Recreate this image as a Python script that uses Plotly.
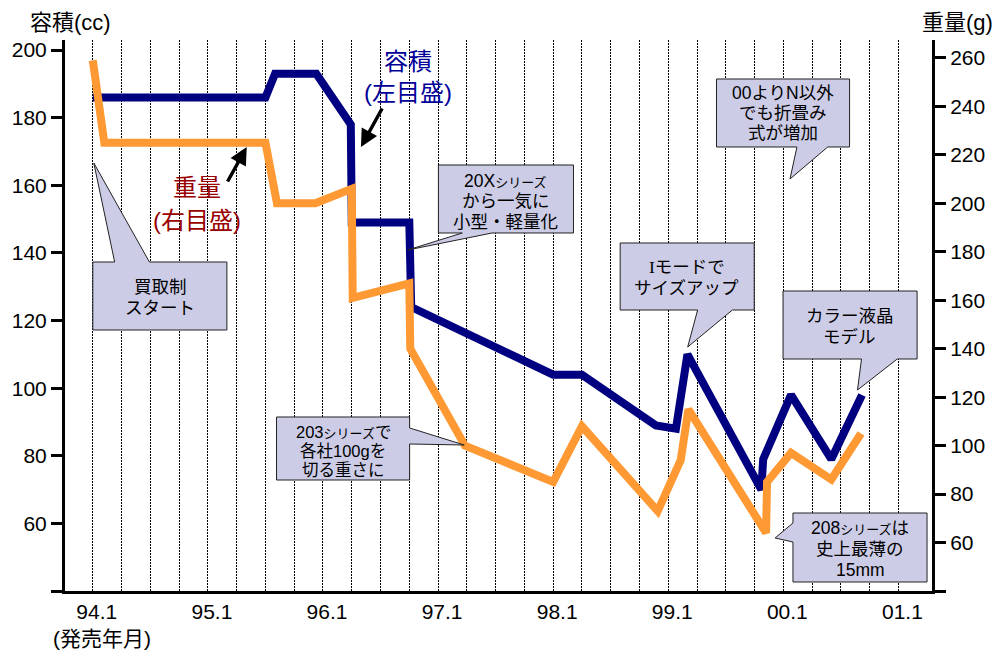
import plotly.graph_objects as go

# ---------------- data ----------------
# x = months since 1994.1 (release month)
vol_month = [0, 18, 19, 23.3, 26.9, 27, 33, 33.2, 48, 51, 58.7, 60.8, 62, 69.7, 69.9, 72.8, 77, 80.2]
vol_cc = [186, 186, 193, 193, 178, 149, 149, 124, 104, 104, 89, 88, 110, 70, 79, 98, 79, 98]

wt_month = [0, 1.2, 18, 19.2, 23.2, 27, 27.1, 33, 33.1, 38.8, 48, 51, 58.9, 61.3, 62.1, 70.2, 70.3, 72.8, 77, 80.1]
wt_g = [259, 225, 225, 200, 200, 206, 161, 167, 140, 100, 85, 108, 73, 94, 115, 64, 85, 97, 86, 105]

x_tick_months = [0, 12, 24, 36, 48, 60, 72, 84]
x_tick_labels = ["94.1", "95.1", "96.1", "97.1", "98.1", "99.1", "00.1", "01.1"]
x_grid_months = list(range(0, 85, 3))

vol_ticks = [40, 60, 80, 100, 120, 140, 160, 180, 200]
wt_ticks = [40, 60, 80, 100, 120, 140, 160, 180, 200, 220, 240, 260]

# ---------------- layout helpers ----------------
W, H = 997, 652
L, R, T, B = 60, 933, 40, 591
FONT = "Liberation Sans, Arial, Noto Sans CJK JP, sans-serif"


def px(x):
    return (x - L) / (R - L)


def py(y):
    return (B - y) / (B - T)


def callout_path(box, edge, a, b, tip):
    x0, y0, x1, y1 = box
    tx, ty = tip
    if edge == "bottom":
        pts = [(x0, y0), (x1, y0), (x1, y1), (b, y1), (tx, ty), (a, y1), (x0, y1)]
    elif edge == "top":
        pts = [(x0, y0), (a, y0), (tx, ty), (b, y0), (x1, y0), (x1, y1), (x0, y1)]
    elif edge == "left":
        pts = [(x0, y0), (x1, y0), (x1, y1), (x0, y1), (x0, b), (tx, ty), (x0, a)]
    else:  # right
        pts = [(x0, y0), (x1, y0), (x1, a), (tx, ty), (x1, b), (x1, y1), (x0, y1)]
    return "M " + " L ".join(f"{px(x):.5f},{py(y):.5f}" for x, y in pts) + " Z"


S = "<span style='font-size:13px'>シリーズ</span>"
I_SERIF = "<span style='font-family:Liberation Serif'>I</span>"
callouts = [
    dict(box=(88, 262, 223, 330), edge="top", a=110, b=145, tip=(89, 163),
         cx=156, lines=["買取制", "スタート"], ys=[287, 308], fs=17.5),
    dict(box=(436, 165, 572, 233), edge="bottom", a=460, b=490, tip=(405, 250),
         cx=504, lines=["20X" + S, "から一気に", "小型・軽量化"], ys=[181, 201, 222], fs=17.5),
    dict(box=(619, 243, 754, 310), edge="bottom", a=697, b=732, tip=(687, 347),
         cx=686, lines=[I_SERIF + "モードで", "サイズアップ"], ys=[267, 288], fs=17.5),
    dict(box=(716, 79, 850, 147), edge="bottom", a=797, b=828, tip=(790, 179),
         cx=783, lines=["00よりN以外", "でも折畳み", "式が増加"], ys=[93, 113, 133], fs=17.5),
    dict(box=(783, 291, 918, 359), edge="bottom", a=862, b=898, tip=(858, 390),
         cx=850, lines=["カラー液晶", "モデル"], ys=[316, 337], fs=17.5),
    dict(box=(793, 513, 928, 582), edge="left", a=523, b=542, tip=(775, 538),
         cx=861, lines=["208" + S + "は", "史上最薄の", "15mm"], ys=[528, 549, 570], fs=17.5),
    dict(box=(273, 417, 407, 480), edge="right", a=428, b=444, tip=(462, 445),
         cx=340, lines=["203" + S + "で", "各社100gを", "切る重さに"], ys=[432, 451, 470], fs=16.5),
]

fig = go.Figure()
fig.add_trace(go.Scatter(x=vol_month, y=vol_cc, mode="lines", yaxis="y",
                         line=dict(color="#000080", width=8), hoverinfo="skip"))
fig.add_trace(go.Scatter(x=wt_month, y=wt_g, mode="lines", yaxis="y2",
                         line=dict(color="#FF9933", width=8), hoverinfo="skip"))

shapes = []
annotations = []
for c in callouts:
    shapes.append(dict(type="path", xref="paper", yref="paper",
                       path=callout_path(c["box"], c["edge"], c["a"], c["b"], c["tip"]),
                       fillcolor="#CCCCE6", line=dict(color="#222222", width=1), layer="above"))
    for t, yy in zip(c["lines"], c["ys"]):
        annotations.append(dict(xref="paper", yref="paper", x=px(c["cx"]), y=py(yy),
                                text=t, showarrow=False, xanchor="center", yanchor="middle",
                                font=dict(family=FONT, size=c["fs"], color="black")))

# series labels
for t, yy, col, xx in [("容積", 62, "#000099", 405), ("(左目盛)", 93, "#000099", 405),
                       ("重量", 188, "#990000", 193), ("(右目盛)", 220, "#990000", 193)]:
    annotations.append(dict(xref="paper", yref="paper", x=px(xx), y=py(yy), text=t,
                            showarrow=False, xanchor="center", yanchor="middle",
                            font=dict(family=FONT, size=24, color=col)))

# arrows
for tip, tail in [((358, 147), (380, 107)), ((243, 147), (223, 183))]:
    annotations.append(dict(xref="paper", yref="paper", x=px(tip[0]), y=py(tip[1]), text="",
                            showarrow=True, ax=tail[0] - tip[0], ay=tail[1] - tip[1],
                            arrowhead=2, arrowsize=1, arrowwidth=3.5, arrowcolor="black"))

# axis titles
annotations += [
    dict(xref="paper", yref="paper", x=px(23), y=py(22), text="容積(cc)", showarrow=False,
         xanchor="left", yanchor="middle", font=dict(family=FONT, size=22, color="black")),
    dict(xref="paper", yref="paper", x=px(996), y=py(22), text="重量(g)", showarrow=False,
         xanchor="right", yanchor="middle", font=dict(family=FONT, size=22, color="black")),
    dict(xref="paper", yref="paper", x=px(46), y=py(638), text="(発売年月)", showarrow=False,
         xanchor="left", yanchor="middle", font=dict(family=FONT, size=21, color="black")),
]

grid_dash = "2px,1px"
fig.update_layout(
    width=W, height=H, autosize=False,
    margin=dict(l=L, r=W - R, t=T, b=H - B, pad=0),
    paper_bgcolor="white", plot_bgcolor="white",
    showlegend=False,
    font=dict(family=FONT, size=21, color="black"),
    xaxis=dict(range=[-2.9, 87.5], showline=True, linewidth=3, linecolor="black",
               ticks="", tickmode="array", tickvals=x_tick_months, ticktext=x_tick_labels,
               ticklabelshift=4, ticklabelstandoff=0,
               showgrid=True, gridcolor="black", gridwidth=1, griddash=grid_dash,
               minor=dict(tickmode="array", tickvals=x_grid_months, showgrid=True,
                          gridcolor="black", gridwidth=1, griddash=grid_dash, ticks=""),
               zeroline=False, tickfont=dict(size=21)),
    yaxis=dict(range=[40, 203], showline=True, linewidth=3, linecolor="black",
               ticks="outside", ticklen=11, tickwidth=3, tickcolor="black",
               tickmode="array", tickvals=vol_ticks,
               ticktext=[""] + [str(v) for v in vol_ticks[1:]],
               showgrid=False, zeroline=False, tickfont=dict(size=21)),
    yaxis2=dict(range=[40, 267.4], overlaying="y", side="right", showline=True,
                linewidth=3, linecolor="black", ticks="outside", ticklen=11, tickwidth=3,
                tickcolor="black", tickmode="array", tickvals=wt_ticks,
                ticktext=[""] + [str(v) for v in wt_ticks[1:]],
                showgrid=False, zeroline=False, tickfont=dict(size=21)),
    shapes=shapes,
    annotations=annotations,
)

fig.write_html("out.html")
